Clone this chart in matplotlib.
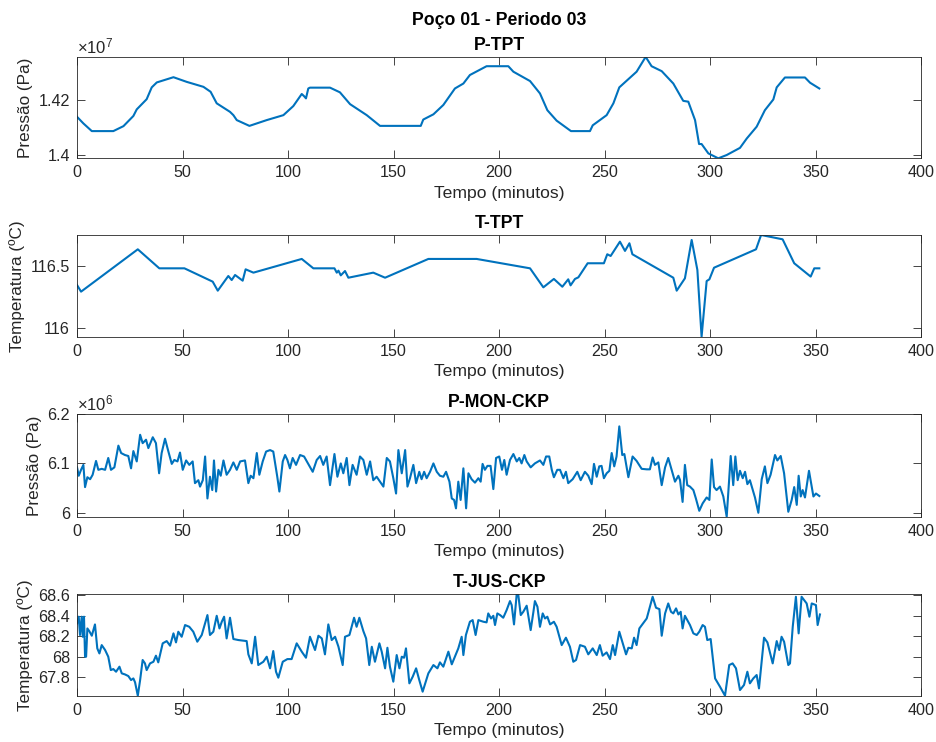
import matplotlib
matplotlib.use("Agg")
import matplotlib.pyplot as plt

plt.rcParams["font.family"] = ["Liberation Sans", "DejaVu Sans"]
plt.rcParams["mathtext.fontset"] = "custom"
plt.rcParams["mathtext.rm"] = "Liberation Sans"
plt.rcParams["mathtext.it"] = "Liberation Sans:italic"

LINE_COLOR = "#0072BD"
AX_COLOR = "#262626"

# P-TPT (x 1e7 Pa)
p_tpt_t = [0, 3, 7, 17.2, 22, 26.7, 28.3, 33, 35.4, 37.8, 45.7, 52, 59.9, 63.3, 66.2,
           72.5, 74.1, 75.7, 81.7, 89.9, 97.8, 102.5, 106.5, 107.6, 108.5, 109.6, 110.4,
           119.9, 124.6, 129.4, 137.3, 143.6, 162.9, 164.1, 168.9, 173.6, 179.1, 183.1,
           186.2, 194.1, 204.4, 206.8, 214.7, 219.4, 222.9, 227.3, 234.1, 243.1, 244.4,
           251, 254.2, 257, 265.2, 269.5, 272.3, 277.1, 282.6, 287.3, 289.7, 292.9, 294.8,
           296, 299.2, 303.9, 307.9, 314.2, 317.4, 322.1, 326, 330, 331.6, 335.5, 345,
           347.4, 351.8]
p_tpt = [1.4138, 1.4114, 1.4086, 1.4086, 1.4104, 1.4141, 1.4165, 1.4202, 1.4245, 1.4263,
         1.4282, 1.4265, 1.4247, 1.4229, 1.4187, 1.4156, 1.4144, 1.4126, 1.4105, 1.4126,
         1.4144, 1.4177, 1.4221, 1.4213, 1.4205, 1.4241, 1.4244, 1.4244, 1.4227, 1.4184,
         1.4144, 1.4105, 1.4105, 1.4128, 1.4147, 1.4181, 1.4241, 1.4259, 1.4290, 1.4322,
         1.4322, 1.4302, 1.4268, 1.4223, 1.4162, 1.4124, 1.4086, 1.4086, 1.4107, 1.4144,
         1.4187, 1.4245, 1.4302, 1.4356, 1.4322, 1.4304, 1.4259, 1.4196, 1.4193, 1.4126,
         1.4039, 1.4039, 1.4005, 1.3987, 1.3999, 1.4025, 1.4059, 1.4102, 1.4162, 1.4201,
         1.4245, 1.4281, 1.4281, 1.4262, 1.4241]

# T-TPT (degC)
t_tpt_t = [0, 1.9, 28.8, 39, 50.9, 64.3, 66.7, 71.7, 73.3, 74.9, 78.5, 79.9, 83.6, 106.5,
           112, 122, 123.1, 123.9, 125, 127, 128.6, 140.4, 146, 166.5, 189.4, 214.7, 221,
           226, 230, 232.8, 233.9, 236, 237.6, 242, 249.7, 251.3, 252.9, 257.3, 259.7,
           261.8, 263.2, 282.6, 284.2, 288.1, 291.3, 294, 296, 298.4, 299.7, 301.9, 321.8,
           324.2, 334.4, 339.9, 347.7, 349.4, 351.8]
t_tpt = [116.346, 116.292, 116.635, 116.481, 116.481, 116.373, 116.300, 116.419, 116.386,
         116.427, 116.381, 116.473, 116.446, 116.557, 116.481, 116.481, 116.446, 116.462,
         116.424, 116.459, 116.405, 116.446, 116.405, 116.557, 116.557, 116.481, 116.327,
         116.395, 116.332, 116.392, 116.343, 116.395, 116.408, 116.522, 116.522, 116.595,
         116.581, 116.697, 116.622, 116.684, 116.595, 116.405, 116.300, 116.400, 116.711,
         116.468, 115.927, 116.378, 116.392, 116.486, 116.635, 116.751, 116.716, 116.522,
         116.414, 116.481, 116.481]

# P-MON-CKP (x 1e6 Pa)
p_mon_t = [0.0, 0.8, 1.9, 3.0, 3.8, 4.9, 6.2, 7.4, 9.0, 10.1, 11.7, 13.3, 14.8, 16.1, 17.7,
           19.6, 20.9, 22.7, 24.3, 25.6, 26.7, 28.3, 29.9, 31.1, 32.7, 33.8, 35.9, 37.4,
           38.9, 40.1, 41.7, 43.3, 44.9, 46.1, 47.6, 48.8, 50.1, 51.7, 53.2, 54.8, 55.9,
           57.5, 58.3, 59.6, 60.7, 61.8, 63.0, 64.1, 64.9, 65.9, 67.0, 68.1, 69.4, 70.9,
           72.5, 74.1, 75.7, 77.3, 79.6, 81.2, 82.3, 83.6, 85.2, 86.4, 88.0, 89.6, 91.5,
           93.0, 94.9, 95.9, 97.5, 98.6, 99.7, 100.9, 102.2, 103.8, 105.7, 107.6, 109.6,
           111.7, 113.6, 115.2, 116.7, 118.3, 119.9, 122.0, 123.4, 125.0, 126.2, 127.8,
           129.1, 130.6, 132.5, 134.1, 135.7, 137.3, 138.9, 140.4, 142.0, 143.6, 145.2,
           146.8, 148.3, 149.9, 151.2, 152.3, 153.9, 155.5, 156.6, 157.8, 159.4, 160.7,
           162.2, 163.3, 164.5, 165.7, 167.3, 168.9, 170.5, 172.0, 173.6, 174.9, 176.5,
           177.6, 178.7, 179.6, 180.7, 181.8, 183.1, 184.4, 185.5, 187.0, 188.6, 190.2,
           191.3, 192.2, 193.3, 194.5, 196.0, 197.3, 198.6, 200.1, 201.4, 202.5, 203.6,
           205.2, 206.8, 208.4, 209.6, 210.7, 212.0, 213.1, 215.0, 217.0, 219.4, 221.0,
           222.3, 223.8, 225.0, 226.0, 227.6, 228.9, 230.5, 231.7, 232.8, 234.9, 237.1,
           238.7, 240.7, 242.3, 243.9, 245.0, 246.3, 247.5, 248.6, 249.7, 251.0, 252.3,
           253.4, 254.6, 255.7, 257.0, 258.4, 259.4, 261.3, 263.3, 265.2, 267.6, 270.0,
           271.5, 272.8, 273.9, 275.5, 277.1, 278.7, 280.2, 281.8, 283.4, 285.0, 285.8,
           287.0, 288.1, 289.2, 290.5, 292.1, 293.3, 294.9, 296.5, 298.4, 299.7, 300.8,
           301.9, 303.1, 304.7, 306.3, 307.9, 309.8, 311.0, 312.0, 313.1, 314.2, 315.5,
           316.6, 317.7, 318.9, 321.3, 322.9, 324.5, 326.0, 327.2, 328.7, 330.8, 331.9,
           333.5, 335.1, 337.1, 338.7, 339.9, 341.1, 342.0, 343.0, 343.9, 345.0, 346.9,
           349.0, 350.2, 351.8]
p_mon = [6.092, 6.075, 6.087, 6.097, 6.052, 6.072, 6.068, 6.077, 6.105, 6.087, 6.089,
         6.087, 6.111, 6.087, 6.092, 6.136, 6.121, 6.117, 6.115, 6.090, 6.125, 6.104,
         6.158, 6.141, 6.148, 6.131, 6.153, 6.141, 6.080, 6.121, 6.150, 6.124, 6.099,
         6.107, 6.104, 6.122, 6.087, 6.106, 6.097, 6.104, 6.060, 6.066, 6.053, 6.066,
         6.114, 6.029, 6.073, 6.046, 6.106, 6.043, 6.087, 6.075, 6.106, 6.077, 6.087,
         6.102, 6.087, 6.104, 6.106, 6.060, 6.075, 6.070, 6.121, 6.077, 6.104, 6.124,
         6.127, 6.124, 6.073, 6.043, 6.104, 6.117, 6.107, 6.090, 6.111, 6.097, 6.117,
         6.114, 6.099, 6.083, 6.107, 6.115, 6.097, 6.114, 6.056, 6.119, 6.073, 6.100,
         6.080, 6.111, 6.056, 6.097, 6.077, 6.114, 6.107, 6.077, 6.104, 6.066, 6.073,
         6.063, 6.053, 6.111, 6.104, 6.070, 6.039, 6.127, 6.080, 6.127, 6.053, 6.070,
         6.097, 6.060, 6.083, 6.068, 6.083, 6.070, 6.083, 6.100, 6.083, 6.075, 6.073,
         6.083, 6.063, 6.029, 6.026, 6.009, 6.063, 6.026, 6.090, 6.009, 6.080, 6.068,
         6.061, 6.070, 6.063, 6.099, 6.087, 6.095, 6.095, 6.048, 6.111, 6.114, 6.087,
         6.107, 6.077, 6.107, 6.119, 6.104, 6.111, 6.100, 6.117, 6.104, 6.092, 6.100,
         6.106, 6.097, 6.114, 6.114, 6.087, 6.072, 6.087, 6.087, 6.070, 6.083, 6.060,
         6.068, 6.083, 6.066, 6.083, 6.075, 6.058, 6.099, 6.073, 6.094, 6.095, 6.070,
         6.080, 6.085, 6.121, 6.094, 6.114, 6.175, 6.117, 6.119, 6.072, 6.114, 6.105,
         6.089, 6.088, 6.088, 6.112, 6.097, 6.102, 6.056, 6.092, 6.111, 6.087, 6.063,
         6.075, 6.066, 6.022, 6.097, 6.056, 6.053, 6.046, 6.029, 6.004, 6.019, 6.031,
         6.026, 6.108, 6.052, 6.046, 6.053, 6.033, 5.992, 6.115, 6.056, 6.114, 6.066,
         6.085, 6.070, 6.083, 6.058, 6.066, 6.031, 6.000, 6.068, 6.094, 6.060, 6.077,
         6.117, 6.106, 6.115, 6.080, 6.002, 6.026, 6.052, 6.016, 6.075, 6.033, 6.046,
         6.031, 6.085, 6.033, 6.039, 6.034]

# T-JUS-CKP (degC)
t_jus_t = [0.0, 0.8, 1.4, 2.2, 2.7, 3.3, 3.8, 4.3, 4.9, 5.8, 7.0, 8.5, 9.6, 10.6, 11.7,
           13.3, 14.8, 16.0, 17.2, 18.5, 20.1, 21.2, 22.7, 24.3, 25.6, 26.7, 27.5, 28.8,
           29.9, 31.1, 32.2, 33.0, 34.6, 36.2, 37.4, 38.5, 40.6, 42.5, 44.1, 45.7, 46.9,
           48.0, 49.6, 51.2, 53.2, 55.1, 57.0, 59.1, 61.8, 63.0, 64.6, 66.2, 67.5, 68.6,
           69.7, 70.9, 72.5, 74.1, 76.5, 80.4, 81.2, 82.8, 84.4, 85.9, 88.3, 89.9, 91.5,
           93.0, 94.3, 95.4, 97.5, 99.7, 101.7, 104.1, 106.5, 108.5, 110.4, 112.8, 114.4,
           116.0, 117.5, 119.1, 120.7, 122.3, 123.9, 125.9, 127.0, 129.1, 131.3, 132.5,
           133.8, 135.7, 137.0, 138.5, 139.7, 141.2, 143.3, 144.4, 146.0, 147.1, 148.3,
           149.9, 151.5, 152.8, 153.9, 155.0, 155.9, 157.5, 159.1, 160.7, 162.2, 163.8,
           166.5, 168.9, 170.8, 172.0, 173.6, 176.0, 177.6, 179.1, 180.7, 182.3, 183.1,
           184.3, 186.2, 187.5, 188.9, 190.2, 192.6, 194.1, 194.9, 196.2, 197.3, 198.1,
           199.2, 200.5, 202.0, 203.6, 205.2, 206.0, 207.1, 208.4, 209.1, 210.3, 211.5,
           213.1, 215.0, 216.3, 217.0, 218.2, 219.4, 220.7, 221.8, 222.9, 224.2, 226.0,
           227.3, 229.7, 231.7, 233.6, 235.2, 236.5, 238.4, 240.7, 242.3, 244.4, 246.3,
           247.8, 249.1, 251.0, 252.6, 253.9, 255.0, 257.0, 258.9, 260.2, 261.3, 262.9,
           264.0, 265.2, 266.5, 270.0, 272.8, 274.4, 276.0, 277.1, 278.7, 280.2, 281.5,
           282.6, 283.9, 285.0, 286.1, 287.0, 288.1, 290.5, 292.1, 293.7, 294.9, 296.5,
           297.6, 298.7, 300.3, 302.4, 304.7, 307.1, 309.1, 310.7, 312.3, 314.2, 316.1,
           317.7, 318.9, 320.5, 322.1, 323.2, 325.6, 327.2, 329.7, 331.6, 332.8, 333.9,
           335.1, 337.1, 337.9, 339.2, 340.7, 342.0, 343.4, 345.8, 347.1, 348.2, 350.2,
           351.0, 352.1]
t_jus = [68.324, 68.389, 68.211, 68.389, 68.194, 68.389, 68.000, 68.000, 68.275, 68.249,
         68.204, 68.314, 68.081, 68.032, 68.113, 68.065, 68.000, 67.870, 67.880, 67.854,
         67.903, 67.838, 67.828, 67.812, 67.773, 67.789, 67.751, 67.621, 67.773, 67.968,
         67.935, 67.870, 67.935, 67.951, 68.010, 67.945, 68.130, 68.152, 68.107, 68.227,
         68.139, 68.243, 68.194, 68.308, 68.291, 68.243, 68.146, 68.211, 68.405, 68.211,
         68.243, 68.398, 68.275, 68.340, 68.389, 68.178, 68.379, 68.172, 68.162, 68.152,
         68.023, 67.935, 68.194, 67.919, 67.951, 68.000, 67.887, 68.055, 67.854, 67.796,
         67.951, 67.977, 67.977, 68.130, 68.049, 67.990, 68.194, 68.065, 68.204, 68.178,
         68.023, 68.314, 68.162, 68.194, 68.097, 67.919, 68.194, 68.211, 68.379, 68.291,
         68.379, 68.249, 68.178, 67.919, 68.097, 67.951, 68.130, 68.049, 67.887, 68.087,
         67.903, 67.757, 68.016, 67.887, 68.000, 67.990, 68.081, 67.741, 67.806, 67.887,
         67.773, 67.660, 67.838, 67.919, 67.887, 67.945, 67.903, 68.049, 67.926, 68.000,
         68.081, 68.194, 68.016, 68.211, 68.340, 68.356, 68.211, 68.356, 68.340, 68.334,
         68.421, 68.372, 68.398, 68.308, 68.421, 68.405, 68.379, 68.453, 68.541, 68.502,
         68.314, 68.615, 68.606, 68.405, 68.437, 68.496, 68.259, 68.437, 68.541, 68.486,
         68.291, 68.421, 68.372, 68.389, 68.314, 68.340, 68.291, 68.113, 68.185, 68.097,
         67.951, 67.968, 68.113, 68.097, 68.023, 68.081, 68.016, 68.113, 68.010, 68.042,
         67.977, 68.113, 68.016, 68.243, 68.113, 68.023, 68.087, 68.081, 68.185, 68.113,
         68.275, 68.372, 68.583, 68.476, 68.463, 68.204, 68.421, 68.518, 68.437, 68.421,
         68.470, 68.411, 68.437, 68.275, 68.398, 68.308, 68.227, 68.211, 68.243, 68.308,
         68.291, 68.162, 68.172, 67.789, 67.709, 67.621, 67.919, 67.935, 67.887, 67.676,
         67.725, 67.854, 67.741, 67.789, 67.822, 67.692, 68.185, 68.139, 67.935, 68.152,
         68.065, 68.194, 68.146, 67.919, 67.935, 68.291, 68.583, 68.227, 68.583, 68.518,
         68.389, 68.518, 68.502, 68.308, 68.411]

panels = [
    ("P-TPT", "Pressão (Pa)", p_tpt_t, p_tpt, (1.3988, 1.4355), [1.40, 1.42], ["1.4", "1.42"], 7),
    ("T-TPT", "Temperatura (ºC)", t_tpt_t, t_tpt, (115.927, 116.751), [116, 116.5], ["116", "116.5"], None),
    ("P-MON-CKP", "Pressão (Pa)", p_mon_t, p_mon, (5.992, 6.2), [6.0, 6.1, 6.2], ["6", "6.1", "6.2"], 6),
    ("T-JUS-CKP", "Temperatura (ºC)", t_jus_t, t_jus, (67.618, 68.613),
     [67.8, 68.0, 68.2, 68.4, 68.6], ["67.8", "68", "68.2", "68.4", "68.6"], None),
]
positions = [
    [0.0823, 0.787, 0.9017, 0.136],
    [0.0823, 0.5462, 0.9017, 0.1371],
    [0.0823, 0.3036, 0.9017, 0.1384],
    [0.0823, 0.062, 0.9017, 0.1379],
]

fig = plt.figure(figsize=(9.36, 7.42), dpi=100)
fig.text(0.5335, 0.973, "Poço 01 - Periodo 03", ha="center", va="center",
         fontsize=12.7, fontweight="bold", color="black")

for (title, ylabel, t, y, ylim, yticks, ylabels, exp), pos in zip(panels, positions):
    ax = fig.add_axes(pos)
    ax.plot(t, y, color=LINE_COLOR, linewidth=1.5)
    ax.set_xlim(0, 400)
    ax.set_ylim(*ylim)
    ax.set_xticks([0, 50, 100, 150, 200, 250, 300, 350, 400])
    ax.set_yticks(yticks)
    ax.set_yticklabels(ylabels)
    ax.tick_params(direction="in", length=6, width=0.6, colors=AX_COLOR,
                   labelsize=11.6, top=True, right=True, pad=5)
    for spine in ax.spines.values():
        spine.set_color(AX_COLOR)
        spine.set_linewidth(0.6)
    ax.set_xlabel("Tempo (minutos)", fontsize=12.6, color=AX_COLOR, labelpad=4)
    ax.set_ylabel(ylabel, fontsize=12.3, color=AX_COLOR, labelpad=4)
    ax.set_title(title, fontsize=12.7, fontweight="bold", color="black", pad=5)
    if exp is not None:
        ax.text(0.0, 1.008, r"$\times10^{%d}$" % exp, transform=ax.transAxes,
                ha="left", va="bottom", fontsize=12, color=AX_COLOR)

fig.savefig("out.png", dpi=100)
